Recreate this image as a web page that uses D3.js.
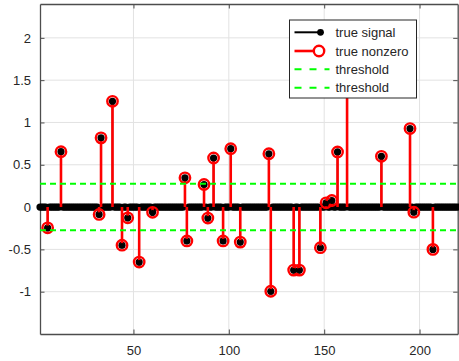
<!DOCTYPE html>
<html>
<head>
<meta charset="utf-8">
<script src="https://cdn.jsdelivr.net/npm/d3@7"></script>
<style>
  body { margin: 0; background: #fff; }
  text { font-family: "Liberation Sans", Arial, sans-serif; fill: #262626; }
</style>
</head>
<body>
<div id="chart"></div>
<script>
// signal length and nonzero entries
var N = 220;
var nzIndex = [5, 12, 32, 33, 39, 44, 47, 53, 60, 77, 78, 87, 89, 92, 97, 101, 106,
  121, 122, 134, 137, 148, 151, 154, 157, 162, 180, 195, 197, 207];
var nzValue = [-0.245, 0.655, -0.087, 0.818, 1.25, -0.45, -0.127, -0.65, -0.062, 0.346, -0.4,
  0.267, -0.13, 0.58, -0.4, 0.69, -0.414, 0.63, -0.995, -0.745, -0.745, -0.48, 0.05, 0.078,
  0.652, 1.8, 0.6, 0.928, -0.06, -0.5];
var thresholds = [0.275, -0.275];
var xTicks = [50, 100, 150, 200];
var yTicks = [-1, -0.5, 0, 0.5, 1, 1.5, 2];
var legendLabels = ["true signal", "true nonzero", "threshold", "threshold"];

var width = 459, height = 361;
var pLeft = 40, pTop = 4, pRight = 457.7, pBottom = 334;

var signal = d3.range(1, N + 1).map(function (i) {
  var k = nzIndex.indexOf(i);
  return { i: i, v: k >= 0 ? nzValue[k] : 0 };
});
var nonzero = nzIndex.map(function (d, k) { return { i: d, v: nzValue[k] }; });

var x = d3.scaleLinear().domain([1, N]).range([pLeft, pRight]);
var y = d3.scaleLinear().domain([-1.5, 2.4]).range([pBottom, pTop]);

var svg = d3.select("#chart").append("svg").attr("width", width).attr("height", height);

svg.append("defs").append("clipPath").attr("id", "clip")
  .append("rect").attr("x", pLeft).attr("y", pTop).attr("width", pRight - pLeft).attr("height", pBottom - pTop);

// grid
var grid = svg.append("g").attr("stroke", "#e2e2e2").attr("stroke-width", 1);
xTicks.forEach(function (t) {
  grid.append("line").attr("x1", x(t)).attr("x2", x(t)).attr("y1", pTop).attr("y2", pBottom);
});
yTicks.forEach(function (t) {
  grid.append("line").attr("x1", pLeft).attr("x2", pRight).attr("y1", y(t)).attr("y2", y(t));
});

// axes (box with inward ticks), matlab-style labels
var fmt = function (d) { return String(d); };
var ax = svg.append("g");
ax.append("g").attr("transform", "translate(0," + pBottom + ")")
  .call(d3.axisBottom(x).tickValues(xTicks).tickFormat(fmt).tickSizeInner(-4.5).tickSizeOuter(0).tickPadding(12));
ax.append("g").attr("transform", "translate(0," + pTop + ")")
  .call(d3.axisTop(x).tickValues(xTicks).tickSizeInner(-4.5).tickSizeOuter(0).tickFormat(""));
ax.append("g").attr("transform", "translate(" + pLeft + ",0)")
  .call(d3.axisLeft(y).tickValues(yTicks).tickFormat(fmt).tickSizeInner(-4.5).tickSizeOuter(0).tickPadding(9));
ax.append("g").attr("transform", "translate(" + pRight + ",0)")
  .call(d3.axisRight(y).tickValues(yTicks).tickSizeInner(-4.5).tickSizeOuter(0).tickFormat(""));
ax.selectAll(".domain").attr("stroke", "#4d4d4d").attr("stroke-width", 1.3);
ax.selectAll(".tick line").attr("stroke", "#4d4d4d").attr("stroke-width", 1);
ax.selectAll(".tick text").style("font-size", "13px").attr("fill", "#262626")
  .style("font-family", "Liberation Sans, Arial, sans-serif");

// true signal stems (black)
var plot = svg.append("g");
plot.append("g").attr("clip-path", "url(#clip)").selectAll("line")
  .data(signal.filter(function (d) { return d.v !== 0; })).enter().append("line")
  .attr("x1", function (d) { return x(d.i); }).attr("x2", function (d) { return x(d.i); })
  .attr("y1", y(0)).attr("y2", function (d) { return y(d.v); })
  .attr("stroke", "#000").attr("stroke-width", 1.5);
plot.append("g").selectAll("circle").data(signal).enter().append("circle")
  .attr("cx", function (d) { return x(d.i); }).attr("cy", function (d) { return y(d.v); })
  .attr("r", 3.6).attr("fill", "#000");

// true nonzero stems (red)
plot.append("g").attr("clip-path", "url(#clip)").selectAll("line")
  .data(nonzero).enter().append("line")
  .attr("x1", function (d) { return x(d.i); }).attr("x2", function (d) { return x(d.i); })
  .attr("y1", y(0)).attr("y2", function (d) { return y(d.v); })
  .attr("stroke", "#ff0000").attr("stroke-width", 2.6);
plot.append("g").selectAll("circle").data(nonzero).enter().append("circle")
  .attr("cx", function (d) { return x(d.i); }).attr("cy", function (d) { return y(d.v); })
  .attr("r", 5.2).attr("fill", "none").attr("stroke", "#ff0000").attr("stroke-width", 2.4);
// black dots stay visible inside the circles
plot.append("g").selectAll("circle").data(nonzero).enter().append("circle")
  .attr("cx", function (d) { return x(d.i); }).attr("cy", function (d) { return y(d.v) + 0.6; })
  .attr("r", 2.8).attr("fill", "#000");

// thresholds
plot.append("g").selectAll("line").data(thresholds).enter().append("line")
  .attr("x1", pLeft).attr("x2", pRight)
  .attr("y1", function (d) { return y(d); }).attr("y2", function (d) { return y(d); })
  .attr("stroke", "#00ff00").attr("stroke-width", 2).attr("stroke-dasharray", "6,4");

// legend
var lg = svg.append("g").attr("transform", "translate(289.5,20)");
lg.append("rect").attr("width", 127).attr("height", 78).attr("fill", "#fff")
  .attr("stroke", "#262626").attr("stroke-width", 1);
var rows = [12.3, 31, 49.3, 67.7];
legendLabels.forEach(function (lab, k) {
  var g = lg.append("g").attr("transform", "translate(0," + rows[k] + ")");
  if (k === 0) {
    g.append("line").attr("x1", 5).attr("x2", 31).attr("stroke", "#000").attr("stroke-width", 2);
    g.append("circle").attr("cx", 31).attr("r", 3.4).attr("fill", "#000");
  } else if (k === 1) {
    g.append("line").attr("x1", 5).attr("x2", 29).attr("stroke", "#ff0000").attr("stroke-width", 2.6);
    g.append("circle").attr("cx", 29.5).attr("r", 5.2).attr("fill", "#fff")
      .attr("stroke", "#ff0000").attr("stroke-width", 2.4);
  } else {
    g.append("line").attr("x1", 5).attr("x2", 40).attr("stroke", "#00ff00")
      .attr("stroke-width", 2).attr("stroke-dasharray", "7,8");
  }
  g.append("text").attr("x", 46).attr("y", 4.5).style("font-size", "13px").text(lab);
});
</script>
</body>
</html>
